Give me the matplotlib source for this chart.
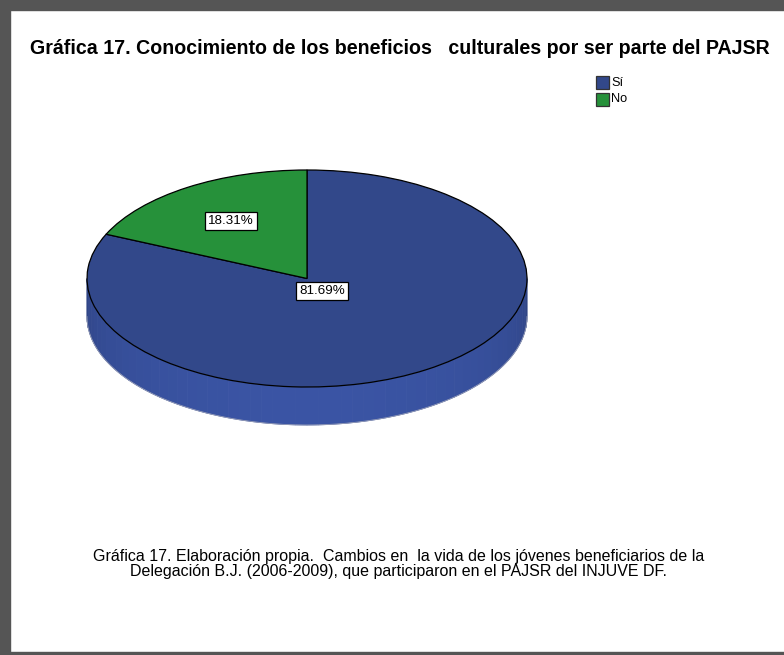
import numpy as np
import matplotlib
matplotlib.use("Agg")
import matplotlib.pyplot as plt
from matplotlib.patches import Polygon, Rectangle

# ---- data ----
categories = ["Sí", "No"]
values = [81.69, 18.31]
labels = ["81.69%", "18.31%"]
title = "Gráfica 17. Conocimiento de los beneficios   culturales por ser parte del PAJSR"
caption_lines = ["Gráfica 17. Elaboración propia.  Cambios en  la vida de los jóvenes beneficiarios de la",
                 "Delegación B.J. (2006-2009), que participaron en el PAJSR del INJUVE DF."]

top_colors = ["#32488a", "#26913a"]
side_color = "#3a54a4"

W, H = 784, 655
fig = plt.figure(figsize=(W / 100, H / 100), dpi=100)
fig.patch.set_facecolor("white")

# border (gray) top, left, bottom
border = "#555555"
fig.patches.append(Rectangle((0, 1 - 10 / H), 1, 10 / H, transform=fig.transFigure, color=border, zorder=0))
fig.patches.append(Rectangle((0, 0), 10 / W, 1, transform=fig.transFigure, color=border, zorder=0))
fig.patches.append(Rectangle((0, 0), 1, 3 / H, transform=fig.transFigure, color=border, zorder=0))

# pie geometry in pixels
cx, cy = 307, 278.5       # centre (from top)
a, b = 220, 108.5          # semi-axes
depth_px = 38
xl = (-1.2, 1.2)
yl = (-1.6, 1.2)
ax_w = (xl[1] - xl[0]) * a
ax_h = (yl[1] - yl[0]) * b
left = cx - (0 - xl[0]) * a
bottom = (H - cy) - (0 - yl[0]) * b
ax = fig.add_axes([left / W, bottom / H, ax_w / W, ax_h / H])

depth = depth_px / b

# side band (front half, visible) drawn from the wedges' angles
total = sum(values)
start = 90.0
angles = []
for v in values:
    end = start - v / total * 360.0
    angles.append((end, start))
    start = end

nstrip = 60
for (t0, t1), col in zip(angles, top_colors):
    for off in (0, -360, 360):
        lo, hi = t0 + off, t1 + off
        lo2, hi2 = max(lo, 180), min(hi, 360)
        if hi2 <= lo2:
            continue
        edges = np.linspace(lo2, hi2, nstrip + 1)
        for e0, e1 in zip(edges[:-1], edges[1:]):
            th = np.radians(np.linspace(e0, e1, 6))
            xs = np.cos(th)
            ys = np.sin(th)
            mid = np.radians((e0 + e1) / 2)
            shade = 0.78 + 0.22 * (-np.sin(mid)) ** 0.6
            base = np.array(matplotlib.colors.to_rgb(side_color if col == top_colors[0] else col))
            c = np.clip(base * shade, 0, 1)
            poly = np.concatenate([np.column_stack([xs, ys]),
                                   np.column_stack([xs[::-1], ys[::-1] - depth])])
            ax.add_patch(Polygon(poly, closed=True, facecolor=c, edgecolor=c, lw=0.6, zorder=1))

thb = np.radians(np.linspace(180, 360, 200))
ax.plot(np.cos(thb), np.sin(thb) - depth, color="#9aa0b8", lw=0.6, zorder=2)

wedges, _ = ax.pie(values, colors=top_colors, startangle=90, counterclock=False,
                   radius=1.0, center=(0, 0),
                   wedgeprops=dict(edgecolor="black", linewidth=0.9, zorder=3))
for w in wedges:
    w.set_zorder(3)
ax.set_aspect("auto")
ax.set_xlim(*xl)
ax.set_ylim(*yl)
ax.axis("off")

# percentage labels
bbox = dict(boxstyle="square,pad=0.25", facecolor="white", edgecolor="black", linewidth=0.9)
label_pos = {"81.69%": (322, 291), "18.31%": (231, 221)}
for lab in labels:
    px, py = label_pos[lab]
    fig.text(px / W, 1 - py / H, lab, ha="center", va="center", fontsize=9.6,
             family="Liberation Sans", bbox=bbox, zorder=5)

# title
fig.text(30 / W, 1 - 48 / H, title, ha="left", va="center", fontsize=14.1,
         fontweight="bold", family="Liberation Sans")

# legend
for i, (cat, col) in enumerate(zip(categories, top_colors)):
    yy = 82.5 + i * 17
    fig.patches.append(Rectangle((596 / W, 1 - (yy + 6.5) / H), 13 / W, 13 / H,
                                 transform=fig.transFigure, facecolor=col,
                                 edgecolor="#333333", lw=0.9))
    fig.text(611 / W, 1 - yy / H, cat, ha="left", va="center", fontsize=9.2,
             family="Liberation Sans")

# caption
for i, line in enumerate(caption_lines):
    fig.text(399 / W, 1 - (557 + 14.5 * i) / H, line, ha="center", va="center",
             fontsize=11.5, family="Liberation Sans")

fig.savefig("out.png", dpi=100)
